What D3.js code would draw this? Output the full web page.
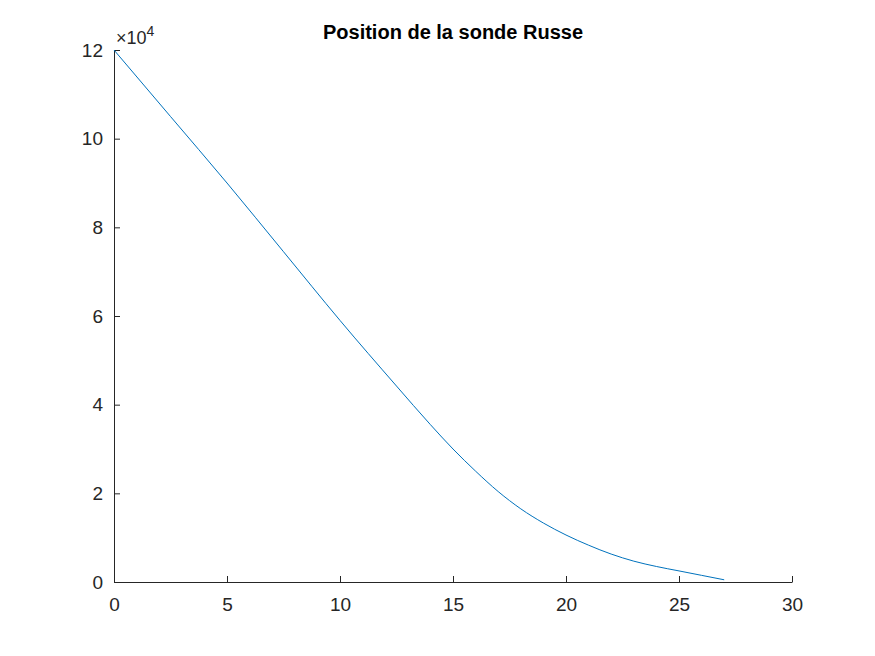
<!DOCTYPE html>
<html><head><meta charset="utf-8">
<script src="https://cdn.jsdelivr.net/npm/d3@7"></script>
<style>body{margin:0;background:#fff}text{font-family:"Liberation Sans",Arial,sans-serif}</style>
</head><body>
<script>
const tVals = [0, 2.5, 5, 7.5, 10, 12.5, 14, 15, 16, 17, 18, 19, 20, 21, 22, 23, 24, 25, 26, 27];
const pVals = [12, 10.5, 9.0, 7.45, 5.9, 4.42, 3.55, 3.0, 2.5, 2.04, 1.65, 1.33, 1.06, 0.83, 0.63, 0.47, 0.35, 0.25, 0.15, 0.05];
const xTicks = [0, 5, 10, 15, 20, 25, 30];
const yTicks = [0, 2, 4, 6, 8, 10, 12];

const W = 875, H = 656, L = 114, R = 792, T = 50, B = 582;
const svg = d3.select("body").append("svg").attr("width", W).attr("height", H);
const x = d3.scaleLinear().domain([0, 30]).range([L, R]);
const y = d3.scaleLinear().domain([0, 12]).range([B, T]);

const ax = svg.append("g").attr("transform", `translate(0,${B})`)
  .call(d3.axisBottom(x).tickValues(xTicks).tickSize(-6).tickPadding(12).tickSizeOuter(0));
const ay = svg.append("g").attr("transform", `translate(${L},0)`)
  .call(d3.axisLeft(y).tickValues(yTicks).tickSize(-6).tickPadding(11).tickSizeOuter(0));
[ax, ay].forEach(g => {
  g.selectAll("path,line").attr("stroke", "#262626");
  g.selectAll("text").attr("fill", "#262626").style("font-size", "19px");
});
ax.selectAll("text").attr("dy", "0.9em");

svg.append("path").datum(d3.zip(tVals, pVals))
  .attr("fill", "none").attr("stroke", "#0072BD").attr("stroke-width", 1)
  .attr("d", d3.line().x(d => x(d[0])).y(d => y(d[1])).curve(d3.curveMonotoneX));

const ex = svg.append("text").attr("x", L + 2).attr("y", 44).attr("fill", "#262626").style("font-size", "18px");
ex.append("tspan").text("×10");
ex.append("tspan").attr("dy", -8).style("font-size", "14px").text("4");

svg.append("text").attr("x", (L + R) / 2).attr("y", 39).attr("text-anchor", "middle")
  .style("font-size", "20px").style("font-weight", "bold").text("Position de la sonde Russe");
</script>
</body></html>
